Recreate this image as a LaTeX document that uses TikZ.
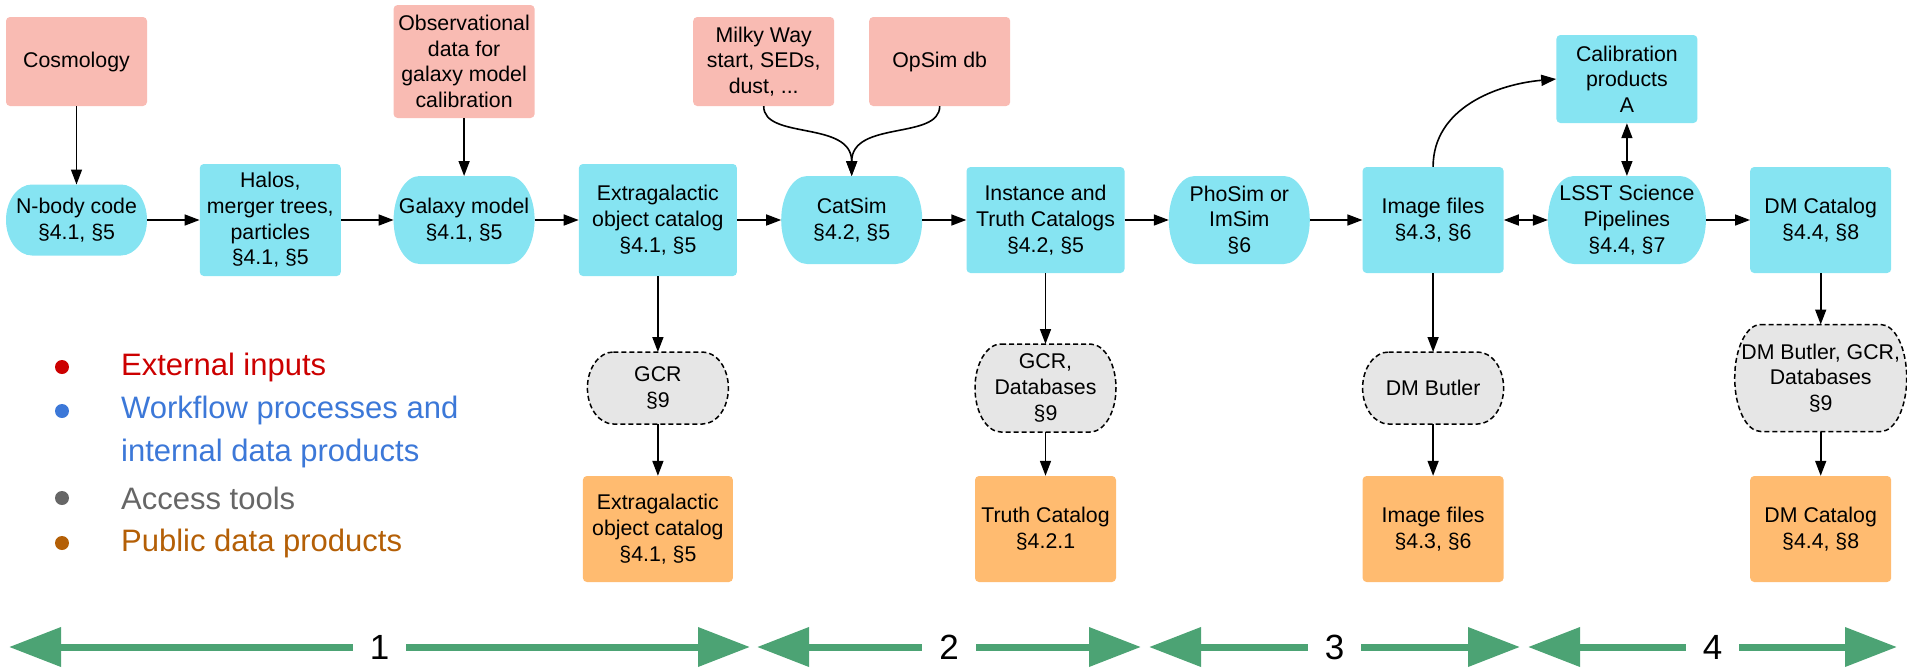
\documentclass[tikz,border=0pt]{standalone}
\usepackage{fontspec}
\setmainfont{Liberation Sans}
\usetikzlibrary{positioning,arrows.meta}

\definecolor{inputpink}{RGB}{249,187,179}
\definecolor{procblue}{RGB}{134,228,242}
\definecolor{publicorange}{RGB}{255,187,112}
\definecolor{accessgray}{RGB}{230,230,230}
\definecolor{phasegreen}{RGB}{76,163,116}
\definecolor{legred}{RGB}{204,0,0}
\definecolor{legblue}{RGB}{60,120,216}
\definecolor{leggray}{RGB}{102,102,102}
\definecolor{legorange}{RGB}{180,95,6}

\def\pillRX{26pt}
\makeatletter
\pgfdeclareshape{pill}{
  \inheritsavedanchors[from=rectangle]
  \inheritanchorborder[from=rectangle]
  \inheritanchor[from=rectangle]{center}
  \inheritanchor[from=rectangle]{north}
  \inheritanchor[from=rectangle]{south}
  \inheritanchor[from=rectangle]{east}
  \inheritanchor[from=rectangle]{west}
  \inheritanchor[from=rectangle]{north east}
  \inheritanchor[from=rectangle]{north west}
  \inheritanchor[from=rectangle]{south east}
  \inheritanchor[from=rectangle]{south west}
  \backgroundpath{
    \southwest \edef\pillL{\the\pgf@x}\edef\pillB{\the\pgf@y}
    \northeast \edef\pillR{\the\pgf@x}\edef\pillT{\the\pgf@y}
    \pgfmathsetlengthmacro\pillRY{((\pillT)-(\pillB))/2}
    \pgfpathmoveto{\pgfpoint{(\pillL)+(\pillRX)}{\pillT}}
    \pgfpathlineto{\pgfpoint{(\pillR)-(\pillRX)}{\pillT}}
    \pgfpatharc{90}{-90}{\pillRX and \pillRY}
    \pgfpathlineto{\pgfpoint{(\pillL)+(\pillRX)}{\pillB}}
    \pgfpatharc{270}{90}{\pillRX and \pillRY}
    \pgfpathclose
  }
}
\makeatother

\begin{document}
\begin{tikzpicture}[x=1pt, y=-1pt, on grid, node distance=168pt and 193.8pt,
    font=\fontsize{21.3}{25.7}\selectfont,
    box/.style={rectangle, rounded corners=4pt, align=center, inner sep=2pt,
      minimum width=141pt, minimum height=106pt},
    input/.style={box, fill=inputpink, minimum height=89pt},
    proc/.style={box, fill=procblue},
    public/.style={box, fill=publicorange},
    term/.style={pill, align=center, inner sep=2pt, outer sep=0pt,
      minimum width=141pt, minimum height=88pt, fill=procblue},
    access/.style={term, fill=accessgray, draw, dash pattern=on 5pt off 3pt,
      line width=1.5pt, minimum height=72pt},
    link/.style={-{Triangle[length=15pt,width=11pt]}, line width=1.6pt},
    twoway/.style={{Triangle[length=15pt,width=11pt]}-{Triangle[length=15pt,width=11pt]},
      line width=1.6pt},
    phase/.style={{Triangle[length=52pt,width=38pt]}-{Triangle[length=52pt,width=38pt]},
      line width=7pt, draw=phasegreen},
    phasenum/.style={fill=white, inner xsep=17pt, inner ysep=0pt,
      font=\fontsize{35}{35}\selectfont},
    legend/.style={anchor=west, align=left, inner sep=0pt,
      font=\fontsize{31}{43}\selectfont},
    legdot/.style={circle, inner sep=0pt, minimum size=14pt}]
  \useasboundingbox (0,0) rectangle (1907,667);

  \node[term, minimum height=71pt] (nbody) at (76.5,220) {N-body code\\§4.1, §5};
  \node[proc, minimum height=112pt, right=of nbody] (halos) {Halos,\\merger trees,\\particles\\§4.1, §5};
  \node[term, right=of halos] (galaxy) {Galaxy model\\§4.1, §5};
  \node[proc, minimum width=158pt, minimum height=112pt, right=of galaxy] (extcat) {Extragalactic\\object catalog\\§4.1, §5};
  \node[term, right=of extcat] (catsim) {CatSim\\§4.2, §5};
  \node[proc, minimum width=158pt, right=of catsim] (truth) {Instance and\\Truth Catalogs\\§4.2, §5};
  \node[term, right=of truth] (phosim) {PhoSim or\\ImSim\\§6};
  \node[proc, right=of phosim] (images) {Image files\\§4.3, §6};
  \node[term, minimum width=158pt, right=of images] (pipe) {LSST Science\\Pipelines\\§4.4, §7};
  \node[proc, right=of pipe] (dmcat) {DM Catalog\\§4.4, §8};

  \node[input, above=158.5pt of nbody] (cosmo) {Cosmology};
  \node[input, minimum height=113pt, above=158.5pt of galaxy] (obsdata) {Observational\\data for\\galaxy model\\calibration};
  \node[input, above=158.5pt of catsim, xshift=-88pt] (milkyway) {Milky Way\\start, SEDs,\\dust, ...};
  \node[input, above=158.5pt of catsim, xshift=88pt] (opsim) {OpSim db};
  \node[proc, minimum height=88pt, above=141pt of pipe] (calib) {Calibration\\products\\A};

  \node[access, below=of extcat] (gcr) {GCR\\§9};
  \node[access, minimum height=88pt, below=of truth] (gcrdb) {GCR,\\Databases\\§9};
  \node[access, below=of images] (butler) {DM Butler};
  \node[access, minimum width=172pt, minimum height=107pt, below=158pt of dmcat] (butlerdb) {DM Butler, GCR,\\Databases\\§9};

  \node[public, minimum width=150pt, below=141pt of gcr] (extpub) {Extragalactic\\object catalog\\§4.1, §5};
  \node[public, below=141pt of gcrdb] (truthpub) {Truth Catalog\\§4.2.1};
  \node[public, below=141pt of butler] (imgpub) {Image files\\§4.3, §6};
  \node[public, below=151pt of butlerdb] (dmpub) {DM Catalog\\§4.4, §8};

  \draw[link] (cosmo) -- (nbody);
  \draw[link] (obsdata) -- (galaxy);
  \draw[link] (nbody) -- (halos);
  \draw[link] (halos) -- (galaxy);
  \draw[link] (galaxy) -- (extcat);
  \draw[link] (extcat) -- (catsim);
  \draw[link] (catsim) -- (truth);
  \draw[link] (truth) -- (phosim);
  \draw[link] (phosim) -- (images);
  \draw[twoway] (images) -- (pipe);
  \draw[link] (pipe) -- (dmcat);
  \draw[twoway] (calib) -- (pipe);
  \draw[link] (milkyway.south) .. controls +(0,34) and +(0,-56) .. (catsim.north);
  \draw[link] (opsim.south) .. controls +(0,34) and +(0,-56) .. (catsim.north);
  \draw[link] (images.north) to[out=90, in=185] (calib.west);

  \draw[link] (extcat) -- (gcr);
  \draw[link] (gcr) -- (extpub);
  \draw[link] (truth) -- (gcrdb);
  \draw[link] (gcrdb) -- (truthpub);
  \draw[link] (images) -- (butler);
  \draw[link] (butler) -- (imgpub);
  \draw[link] (dmcat) -- (butlerdb);
  \draw[link] (butlerdb) -- (dmpub);

  \node[legdot, fill=legred] (dotext) at (62,367) {};
  \node[legend, text=legred] (legext) at (121,367) {External inputs};
  \node[legdot, fill=legblue] (dotproc) at (62,411) {};
  \node[legend, text=legblue] (legproc) at (121,432) {Workflow processes and\\internal data products};
  \node[legdot, fill=leggray] (dotacc) at (62,498) {};
  \node[legend, text=leggray] (legacc) at (121,498) {Access tools};
  \node[legdot, fill=legorange] (dotpub) at (62,543) {};
  \node[legend, text=legorange] (legpub) at (121,543) {Public data products};

  \coordinate (ph0) at (9,647);
  \coordinate (ph1) at (750,647);
  \coordinate (ph1b) at (757,647);
  \coordinate (ph2) at (1141,647);
  \coordinate (ph2b) at (1149,647);
  \coordinate (ph3) at (1520,647);
  \coordinate (ph3b) at (1528,647);
  \coordinate (ph4) at (1897,647);
  \draw[phase] (ph0) -- node[phasenum] (num1) {1} (ph1);
  \draw[phase] (ph1b) -- node[phasenum] (num2) {2} (ph2);
  \draw[phase] (ph2b) -- node[phasenum] (num3) {3} (ph3);
  \draw[phase] (ph3b) -- node[phasenum] (num4) {4} (ph4);
\end{tikzpicture}
\end{document}
